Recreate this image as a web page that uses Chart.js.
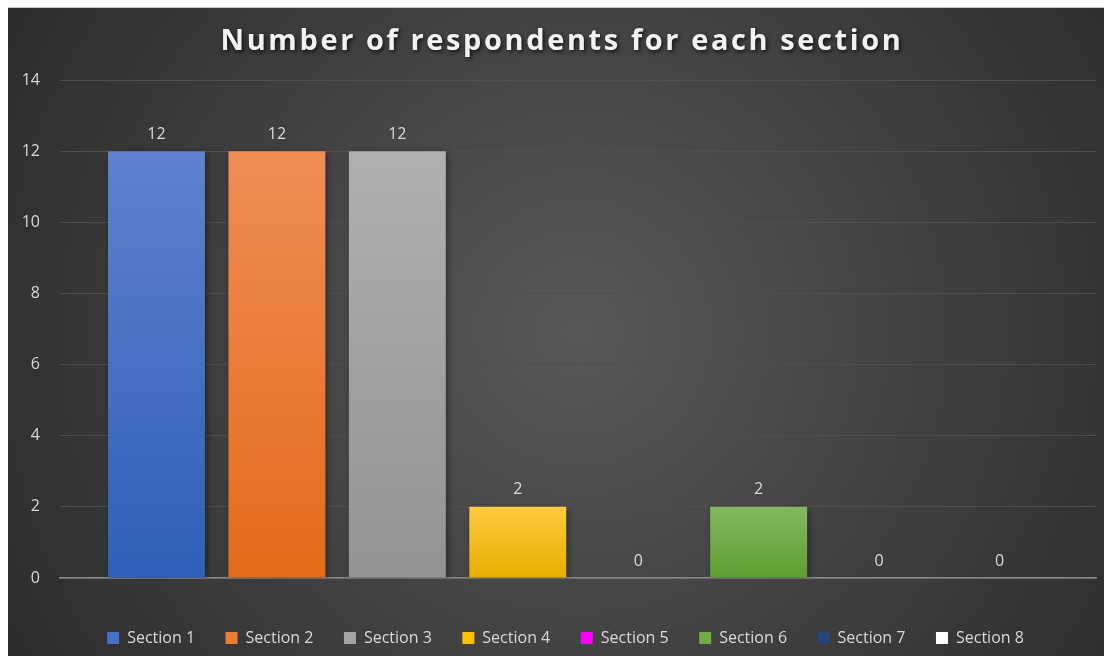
<!DOCTYPE html>
<html>
<head>
<meta charset="utf-8">
<script src="https://cdn.jsdelivr.net/npm/chart.js@4.4.1/dist/chart.umd.min.js"></script>
<style>
html,body{margin:0;padding:0;background:#fff;width:1104px;height:656px;overflow:hidden;}
#wrap{position:absolute;left:8px;top:7px;width:1096px;height:649px;border-top:1px solid #c8c8c8;box-sizing:border-box;}
canvas{display:block;}
</style>
</head>
<body>
<div id="wrap"><canvas id="c" width="1096" height="648"></canvas></div>
<script>
const chartTitle = 'Number of respondents for each section';
const sections = ['Section 1','Section 2','Section 3','Section 4','Section 5','Section 6','Section 7','Section 8'];
const respondents = [12, 12, 12, 2, 0, 2, 0, 0];
const yTicks = [0, 2, 4, 6, 8, 10, 12, 14];
const baseColors = ['#4472C4','#ED7D31','#A5A5A5','#FFC000','#FF00FF','#70AD47','#264478','#FFFFFF'];
const topColors = ['#5e82cd','#f08d57','#b0b0b0','#ffca40','#ff33ff','#82b962','#2f5090','#ffffff'];
const bottomColors = ['#2f5fb8','#e36b19','#939393','#e6ae00','#e000e0','#5e9e32','#1f3f72','#f0f0f0'];

const bgPlugin = {
  id:'bg',
  afterLayout(chart){
    if (chart.legend) { chart.legend.left += 27; }
  },
  beforeDraw(chart){
    const {ctx,width,height} = chart;
    ctx.save();
    const g = ctx.createRadialGradient(width*0.52, height*0.5, 0, width*0.52, height*0.5, width*0.62);
    g.addColorStop(0,'#585858');
    g.addColorStop(1,'#2a2a2a');
    ctx.fillStyle = g;
    ctx.fillRect(0,0,width,height);
    ctx.restore();
  },
  afterDraw(chart){
    const ctx = chart.ctx;
    ctx.save();
    ctx.font = 'bold 29px "Open Sans", sans-serif';
    ctx.letterSpacing = '2.6px';
    ctx.textAlign = 'center';
    ctx.textBaseline = 'middle';
    ctx.shadowColor = 'rgba(0,0,0,0.75)';
    ctx.shadowBlur = 4;
    ctx.shadowOffsetX = 1.5;
    ctx.shadowOffsetY = 2;
    ctx.fillStyle = '#f2f2f2';
    ctx.fillText(chartTitle, 554, 34);
    ctx.restore();
  }
};
const shadowPlugin = {
  id:'shadow',
  beforeDatasetsDraw(chart){
    const ctx = chart.ctx;
    ctx.save();
    ctx.shadowColor = 'rgba(0,0,0,0.45)';
    ctx.shadowBlur = 7;
    ctx.shadowOffsetX = 2;
    ctx.shadowOffsetY = 2;
  },
  afterDatasetsDraw(chart){
    chart.ctx.restore();
  }
};
const labelPlugin = {
  id:'vals',
  afterDatasetsDraw(chart){
    const ctx = chart.ctx;
    ctx.save();
    ctx.font = '16px "Open Sans", sans-serif';
    ctx.fillStyle = '#d9d9d9';
    ctx.textAlign = 'center';
    ctx.textBaseline = 'middle';
    chart.data.datasets.forEach((ds,i)=>{
      const meta = chart.getDatasetMeta(i);
      meta.data.forEach((bar,j)=>{
        ctx.fillText(String(ds.data[j]), bar.x, bar.y - 17);
      });
    });
    ctx.restore();
  }
};

function grad(i){
  return (context)=>{
    const ca = context.chart.chartArea;
    if(!ca) return baseColors[i];
    const y = context.chart.scales.y;
    const top = y.getPixelForValue(respondents[i]);
    const bot = y.getPixelForValue(0);
    if (bot - top < 1) return baseColors[i];
    const g = context.chart.ctx.createLinearGradient(0, top, 0, bot);
    g.addColorStop(0, topColors[i]);
    g.addColorStop(1, bottomColors[i]);
    return g;
  };
}

const datasets = sections.map((s,i)=>({
  label: s,
  data: [respondents[i]],
  backgroundColor: grad(i),
  legendColor: baseColors[i],
  borderWidth: 0,
  barPercentage: 0.805,
  categoryPercentage: 0.93
}));

new Chart(document.getElementById('c'), {
  type:'bar',
  data:{ labels:[''], datasets },
  plugins:[bgPlugin, shadowPlugin, labelPlugin],
  options:{
    responsive:false,
    animation:false,
    layout:{ padding:{ left:0, right:8, top:72, bottom:0 } },
    plugins:{
      title:{ display:false },
      legend:{
        position:'bottom',
        labels:{
          color:'#d9d9d9',
          font:{ family:'"Open Sans", sans-serif', size:16 },
          boxWidth:12, boxHeight:12,
          padding:30.5,
          generateLabels(chart){
            return chart.data.datasets.map((ds,i)=>({
              text: ds.label,
              fillStyle: ds.legendColor,
              strokeStyle: ds.legendColor,
              lineWidth: 0,
              fontColor:'#d9d9d9',
              datasetIndex:i,
              hidden:false
            }));
          }
        }
      },
      tooltip:{ enabled:false }
    },
    scales:{
      x:{
        ticks:{ display:false },
        grid:{ display:false, drawTicks:false },
        border:{ display:true, color:'#8a8a8a', width:1.5 },
        afterFit(scale){ scale.height = 21.5; }
      },
      y:{
        min:0, max:14,
        afterBuildTicks(scale){ scale.ticks = yTicks.map(v=>({value:v})); },
        afterFit(scale){ scale.width = 52; },
        ticks:{ color:'#d9d9d9', padding:20, font:{ family:'"Open Sans", sans-serif', size:16 } },
        grid:{ color:'#4f4f4f', drawTicks:false, lineWidth:1 },
        border:{ display:false }
      }
    }
  }
});
</script>
</body>
</html>
